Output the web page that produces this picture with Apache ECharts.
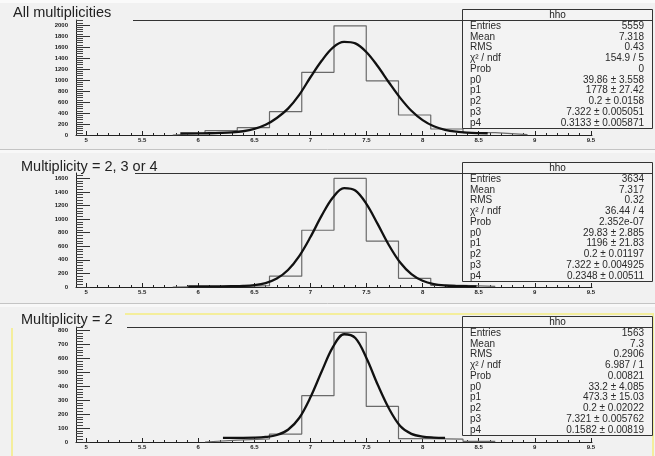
<!DOCTYPE html>
<html><head><meta charset="utf-8">
<script src="https://cdn.jsdelivr.net/npm/echarts@6/dist/echarts.min.js"></script>
<style>html,body{margin:0;padding:0;background:#f1f1f1}#c{width:655px;height:456px}</style>
</head><body><div id="c"></div>
<script>
// ---------- data ----------
const binEdges = [4.91,5.1975,5.485,5.7725,6.06,6.3475,6.635,6.9225,7.21,7.4975,7.785,8.0725,8.36,8.6475,8.935,9.2225,9.51];
const countsAll = [0,0,0,35,78,133,424,1140,1985,985,364,109,42,8,0,0];
const counts234 = [0,0,0,6,10,19,160,835,1598,676,127,24,8,0,0,0];
const counts2   = [0,0,0,0,14,22,57,332,785,255,24,20,5,0,0,0];

const fitXAll = [5.84,5.9,6.0,6.1,6.2,6.3,6.4,6.5,6.6,6.7,6.8,6.9,7.0,7.1,7.2,7.3,7.4,7.5,7.6,7.7,7.8,7.9,8.0,8.1,8.2,8.3,8.4,8.5,8.58];
const fitYAll = [30,30,31,32,37,47,68,110,185,310,480,730,1050,1350,1590,1692,1665,1505,1250,955,675,440,270,158,95,60,43,35,32];
const fitX234 = [5.91,6.0,6.1,6.2,6.3,6.4,6.5,6.6,6.7,6.8,6.9,7.0,7.1,7.2,7.3,7.4,7.5,7.6,7.7,7.8,7.9,8.0,8.1,8.2,8.3,8.4,8.48];
const fitY234 = [10,10,10,10,12,16,28,58,124,250,455,735,1050,1318,1455,1420,1220,925,615,360,190,92,43,22,14,11,10];
const fitX2 = [6.22,6.3,6.4,6.5,6.6,6.7,6.8,6.9,7.0,7.1,7.2,7.3,7.4,7.5,7.6,7.7,7.8,7.9,8.0,8.1,8.2];
const fitY2 = [30,30,30,31,36,50,88,172,320,505,680,772,745,600,410,240,115,58,38,32,30];

const xMajorTicks = [5,5.5,6,6.5,7,7.5,8,8.5,9,9.5];
const yMajorAll = [0,200,400,600,800,1000,1200,1400,1600,1800,2000];
const yMajor234 = [0,200,400,600,800,1000,1200,1400,1600];
const yMajor2   = [0,100,200,300,400,500,600,700,800];

const titles = ['All multiplicities','Multiplicity = 2, 3 or 4','Multiplicity = 2'];
const statHeader = 'hho';
const statLabels = ['Entries','Mean','RMS','\u03c7\u00b2 / ndf','Prob','p0','p1','p2','p3','p4'];
const statsAll = ['5559','7.318','0.43','154.9 / 5','0','39.86 \u00b1 3.558','1778 \u00b1 27.42','0.2 \u00b1 0.0158','7.322 \u00b1 0.005051','0.3133 \u00b1 0.005871'];
const stats234 = ['3634','7.317','0.32','36.44 / 4','2.352e-07','29.83 \u00b1 2.885','1196 \u00b1 21.83','0.2 \u00b1 0.01197','7.322 \u00b1 0.004925','0.2348 \u00b1 0.00511'];
const stats2   = ['1563','7.3','0.2906','6.987 / 1','0.00821','33.2 \u00b1 4.085','473.3 \u00b1 15.03','0.2 \u00b1 0.02022','7.321 \u00b1 0.005762','0.1582 \u00b1 0.00819'];

// ---------- layout ----------
const panels = [
  {top:20,  height:115, yMax:2091, yMajor:yMajorAll, counts:countsAll, fx:fitXAll, fy:fitYAll, stats:statsAll, title:titles[0], tx:13, ty:13, lineStart:133},
  {top:173, height:114, yMax:1678, yMajor:yMajor234, counts:counts234, fx:fitX234, fy:fitY234, stats:stats234, title:titles[1], tx:21, ty:167, lineStart:135},
  {top:327, height:115, yMax:824,  yMajor:yMajor2,   counts:counts2,   fx:fitX2,   fy:fitY2,   stats:stats2,   title:titles[2], tx:21, ty:320, lineStart:127}
];
const GL = 76, GW = 516;
const XMIN = binEdges[0], XMAX = binEdges[binEdges.length-1];

function subdivide(major, n, max){
  const step = (major[1]-major[0])/n, out=[];
  for (let k=1; major[0]+k*step < max; k++){
    const v = +(major[0]+k*step).toFixed(4);
    if (!major.some(m=>Math.abs(m-v)<1e-6)) out.push(v);
  }
  return out;
}
const xMinorTicks = subdivide(xMajorTicks, 5, XMAX);

const labelFont = {fontSize:6, fontWeight:'bold', color:'#222', fontFamily:'Liberation Sans'};
const fmt = v => String(v);
const grid=[], xAxis=[], yAxis=[], series=[], graphic=[];
panels.forEach((p,i)=>{
  grid.push({left:GL, top:p.top, width:GW, height:p.height, show:false});
  xAxis.push({type:'value', gridIndex:i, position:'bottom', min:XMIN, max:XMAX,
    axisLine:{show:true, onZero:false, lineStyle:{color:'#222', width:1}},
    axisTick:{show:true, inside:true, length:4, customValues:xMajorTicks, lineStyle:{color:'#222'}},
    axisLabel:Object.assign({show:true, margin:2, customValues:xMajorTicks, formatter:fmt}, labelFont),
    splitLine:{show:false}});
  xAxis.push({type:'value', gridIndex:i, position:'bottom', offset:0, min:XMIN, max:XMAX,
    axisLine:{show:false, onZero:false},
    axisTick:{show:true, inside:true, length:2, customValues:xMinorTicks, lineStyle:{color:'#222'}},
    axisLabel:{show:false}, splitLine:{show:false}});
  const yMinor = subdivide(p.yMajor, 5, p.yMax);
  yAxis.push({type:'value', gridIndex:i, position:'left', min:0, max:p.yMax,
    axisLine:{show:true, onZero:false, lineStyle:{color:'#222', width:1}},
    axisTick:{show:true, inside:true, length:14, customValues:p.yMajor, lineStyle:{color:'#333'}},
    axisLabel:Object.assign({show:true, margin:8, customValues:p.yMajor, formatter:fmt}, labelFont),
    splitLine:{show:false}});
  yAxis.push({type:'value', gridIndex:i, position:'left', offset:0, min:0, max:p.yMax,
    axisLine:{show:false, onZero:false},
    axisTick:{show:true, inside:true, length:7, customValues:yMinor, lineStyle:{color:'#444'}},
    axisLabel:{show:false}, splitLine:{show:false}});
  // histogram outline (trim empty bins at both ends so the black axis stays visible)
  let a = p.counts.findIndex(c=>c>0), b = p.counts.length-1;
  while (b>0 && p.counts[b]===0) b--;
  const hist = [[binEdges[a], 0]];
  for (let k=a; k<=b; k++) hist.push([binEdges[k], p.counts[k]]);
  hist.push([binEdges[b+1], p.counts[b]]);
  hist.push([binEdges[b+1], 0]);
  series.push({type:'line', xAxisIndex:2*i, yAxisIndex:2*i, data:hist, step:'end', symbol:'none',
    lineStyle:{color:'#6a6a6a', width:1.2}, z:2, animation:false});
  series.push({type:'line', xAxisIndex:2*i, yAxisIndex:2*i, data:p.fx.map((x,k)=>[x,p.fy[k]]), smooth:0.35, symbol:'none',
    lineStyle:{color:'#111', width:2.3}, z:3, animation:false});

  // frame top line
  graphic.push({type:'line', shape:{x1:p.lineStart, y1:p.top+0.5, x2:GL+GW, y2:p.top+0.5}, style:{stroke:'#333', lineWidth:1}, z:50});
  // title
  graphic.push({type:'text', x:p.tx, y:p.ty, style:{text:p.title, fill:'#222', font:'14.5px "Liberation Sans", Arial, sans-serif', align:'left', verticalAlign:'middle'}, z:60});
  // stats box
  const bx=462.5, by=p.top-11+0.5, bw=190, bh=119;
  graphic.push({type:'rect', shape:{x:bx, y:by, width:bw, height:bh}, style:{fill:'#f3f3f3', stroke:'#333', lineWidth:1}, z:80});
  graphic.push({type:'line', shape:{x1:bx, y1:p.top+0.5, x2:bx+bw, y2:p.top+0.5}, style:{stroke:'#333', lineWidth:1}, z:81});
  graphic.push({type:'text', x:bx+bw/2, y:p.top-5, style:{text:statHeader, fill:'#222', font:'10px "Liberation Sans", Arial, sans-serif', align:'center', verticalAlign:'middle'}, z:82});
  statLabels.forEach((lab,k)=>{
    const yy = p.top+6+k*10.75;
    graphic.push({type:'text', x:470, y:yy, style:{text:lab, fill:'#2a2a2a', font:'10px "Liberation Sans", Arial, sans-serif', align:'left', verticalAlign:'middle'}, z:82});
    graphic.push({type:'text', x:644, y:yy, style:{text:p.stats[k], fill:'#2a2a2a', font:'10px "Liberation Sans", Arial, sans-serif', align:'right', verticalAlign:'middle'}, z:82});
  });
});
// panel decorations
graphic.push({type:'rect', shape:{x:0,y:0,width:655,height:3}, style:{fill:'#fafafa'}, z:1});
graphic.push({type:'line', shape:{x1:0,y1:149.5,x2:655,y2:149.5}, style:{stroke:'#c4c4c4', lineWidth:1}, z:1});
graphic.push({type:'rect', shape:{x:0,y:150,width:655,height:3}, style:{fill:'#f8f8f8'}, z:1});
graphic.push({type:'line', shape:{x1:0,y1:303.5,x2:655,y2:303.5}, style:{stroke:'#c4c4c4', lineWidth:1}, z:1});
graphic.push({type:'rect', shape:{x:0,y:304,width:655,height:3}, style:{fill:'#f8f8f8'}, z:1});
// highlighted (selected) bottom pad border
graphic.push({type:'line', shape:{x1:125,y1:314,x2:654,y2:314}, style:{stroke:'#f4ee9c', lineWidth:2}, z:5});
graphic.push({type:'line', shape:{x1:12,y1:328,x2:12,y2:456}, style:{stroke:'#f4ee9c', lineWidth:2}, z:5});
graphic.push({type:'line', shape:{x1:653,y1:314,x2:653,y2:456}, style:{stroke:'#f4ee9c', lineWidth:2}, z:5});

const chart = echarts.init(document.getElementById('c'), null, {renderer:'canvas'});
chart.setOption({backgroundColor:'#f1f1f1', animation:false, grid, xAxis, yAxis, series, graphic});
</script></body></html>
